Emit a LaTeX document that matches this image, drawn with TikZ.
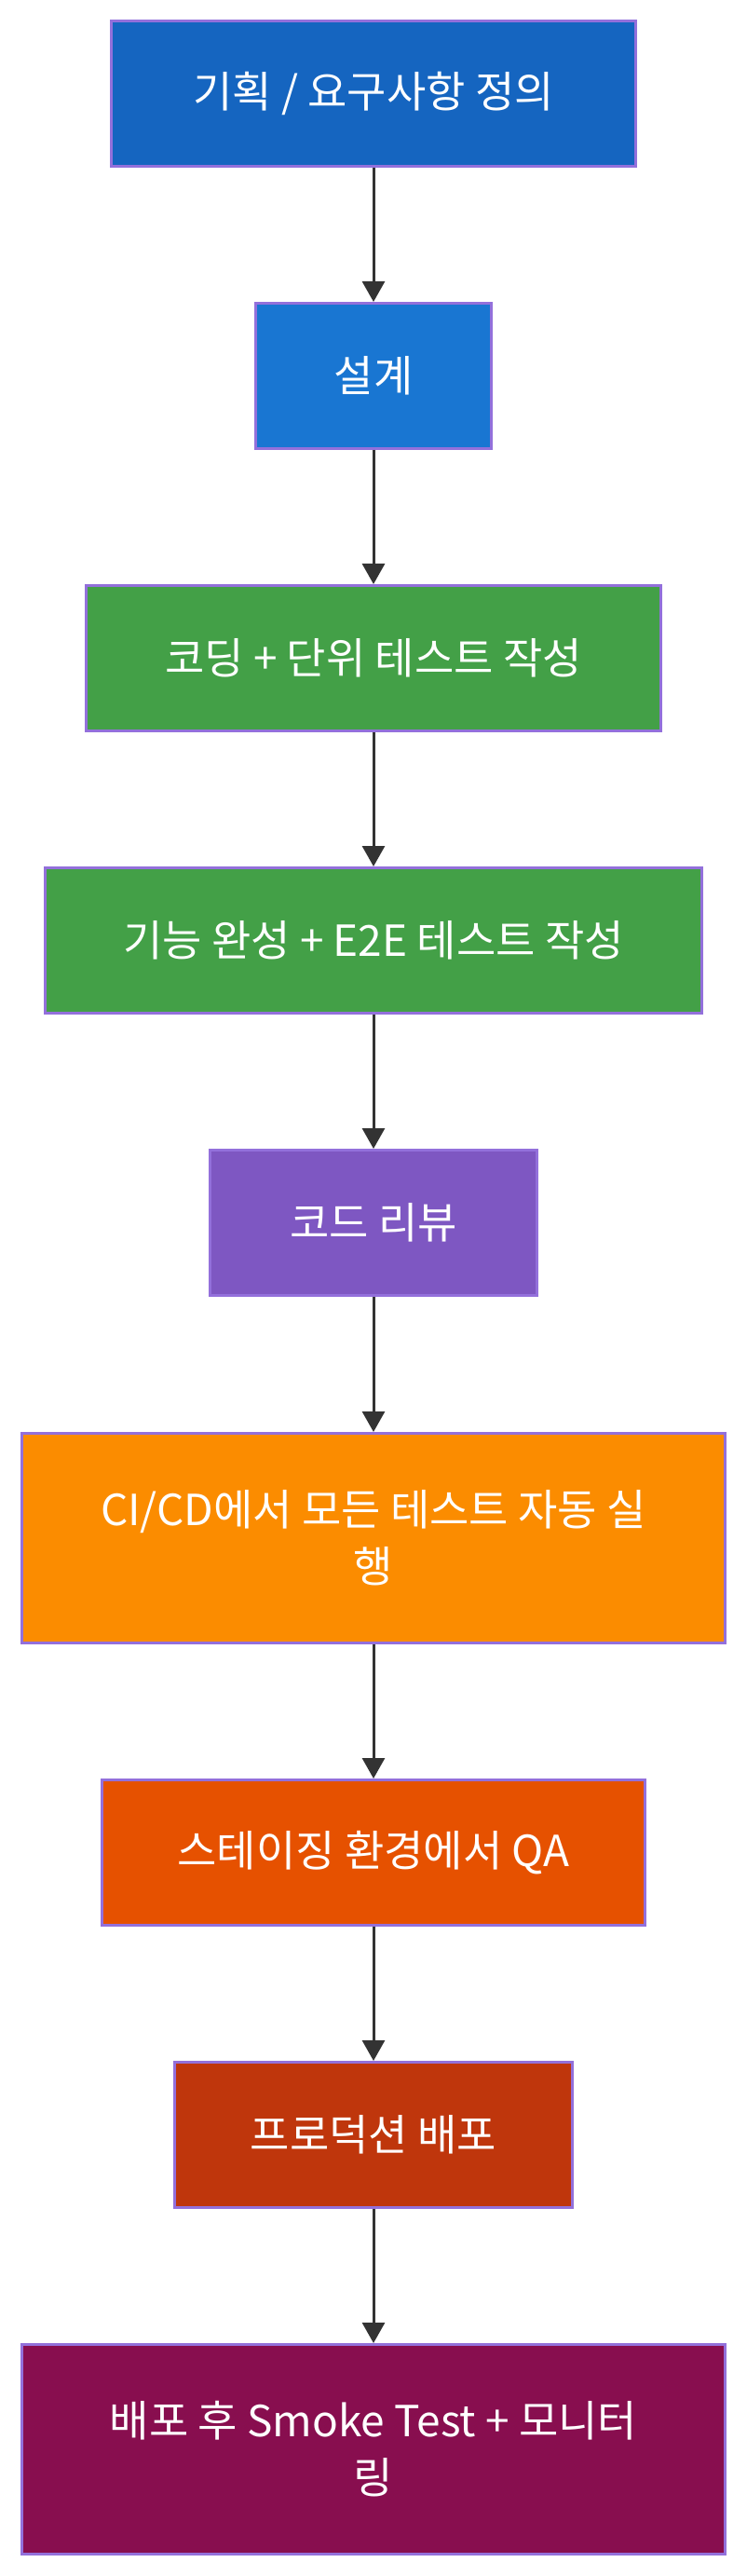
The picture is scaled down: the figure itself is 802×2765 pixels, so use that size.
\documentclass[tikz,border=0pt]{standalone}
\usepackage{fontspec}
\setmainfont{Noto Sans CJK KR}
\usetikzlibrary{arrows.meta}

\definecolor{boxline}{HTML}{9370DB}
\definecolor{arrowgray}{HTML}{333333}
\definecolor{planblue}{HTML}{1565C0}
\definecolor{designblue}{HTML}{1976D2}
\definecolor{codegreen}{HTML}{43A047}
\definecolor{reviewpurple}{HTML}{7E57C2}
\definecolor{ciorange}{HTML}{FB8C00}
\definecolor{qaorange}{HTML}{E65100}
\definecolor{deployred}{HTML}{BF360C}
\definecolor{monitorwine}{HTML}{880E4F}

\begin{document}
\begin{tikzpicture}[
    x=0.5pt, y=-0.5pt,
    stepbox/.style={rectangle, draw=boxline, line width=1.5pt, text=white, inner sep=0pt,
        align=center, minimum height=78pt, font=\fontsize{23pt}{30.5pt}\selectfont},
    tallbox/.style={stepbox, minimum height=112.5pt},
    arrow/.style={-{Triangle[width=12pt, length=11pt]}, line width=1.5pt, draw=arrowgray}
]

\useasboundingbox (0,0) rectangle (802,2765);

\node[stepbox, fill=planblue, minimum width=281.5pt] (plan) at (401,100.5) {기획 / 요구사항 정의};
\node[stepbox, fill=designblue, minimum width=126.5pt] (design) at (401,403.5) {설계};
\node[stepbox, fill=codegreen, minimum width=308.5pt] (unit) at (401,706.5) {코딩 + 단위 테스트 작성};
\node[stepbox, fill=codegreen, minimum width=352.5pt] (etoe) at (401,1009.5) {기능 완성 + E2E 테스트 작성};
\node[stepbox, fill=reviewpurple, minimum width=175.5pt] (review) at (401,1312.5) {코드 리뷰};
\node[tallbox, fill=ciorange, minimum width=377.5pt] (ci) at (401,1651) {CI/CD에서 모든 테스트 자동 실\\행};
\node[stepbox, fill=qaorange, minimum width=291.5pt] (qa) at (401,1988.5) {스테이징 환경에서 QA};
\node[stepbox, fill=deployred, minimum width=213.5pt] (deploy) at (401,2291.5) {프로덕션 배포};
\node[tallbox, fill=monitorwine, minimum width=377.5pt] (monitor) at (401,2629) {배포 후 Smoke Test + 모니터\\링};

\draw[arrow] (plan) -- (design);
\draw[arrow] (design) -- (unit);
\draw[arrow] (unit) -- (etoe);
\draw[arrow] (etoe) -- (review);
\draw[arrow] (review) -- (ci);
\draw[arrow] (ci) -- (qa);
\draw[arrow] (qa) -- (deploy);
\draw[arrow] (deploy) -- (monitor);

\end{tikzpicture}
\end{document}
